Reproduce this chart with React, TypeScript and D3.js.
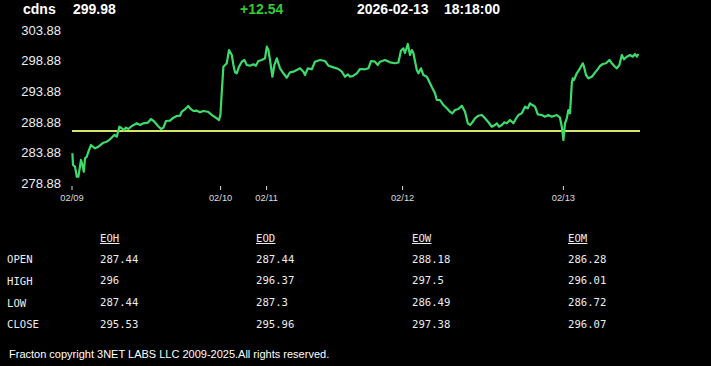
import React from "react";
import * as d3 from "d3";

const symbol = "cdns";
const lastPrice = "299.98";
const change = "+12.54";
const dateStr = "2026-02-13";
const timeStr = "18:18:00";
const prevClose = 287.44;

// time index (bars) and price
const times = [0.2,0.5,1.5,2.4,3.2,4.5,5.2,5.9,6.5,7.4,8.2,9.5,11.5,13.2,15.7,17.4,19,21.2,22.4,23.7,24.9,26.2,26.9,28.2,29.9,32.4,34,35.7,37.9,39.5,41.2,42.9,44.5,45.7,47,49,50.7,52.4,54,54.9,56.5,58.2,59,60.7,62.4,64,65.7,67.9,69.9,72.4,73.5,74.2,74.8,75.7,77.4,78.5,79.9,80.7,81.5,82.4,83.5,84.9,86.2,87.4,89,90.7,91.9,93.2,94.9,96.5,97.4,98.2,99,100.2,101.2,102.4,104,105.7,107.4,109,110.7,112.4,114,115.7,116.5,117.9,119.9,121.5,124,126.5,128.2,130.7,133.2,134.9,136.5,137.9,139,140.7,142.4,144,146.5,148.2,149.5,151.5,152.9,154,156.5,159,161.5,163.2,164.5,165.7,166.5,167.9,169,169.9,170.7,171.2,172.4,173.2,174.5,175.7,177.4,179,180.2,181.5,182.4,184,185.7,187.4,189,190.2,191.5,193.2,194.9,196.5,197.9,199,200.2,201.5,203.2,204.9,206.5,208.2,209.9,211.5,212.4,213.5,214.9,216.2,217.4,219,220.7,221.9,223.2,224.9,226.5,227.9,229,230.2,231.5,232.9,234.9,236.5,238.2,239.9,242.4,244,244.9,245.7,246.5,247.4,248.2,249,249.9,250.4,251,252.4,254,255.4,256,257,258.2,259.9,261.5,263.2,264,265.4,267,268.7,269.9,271.5,272.4,273.7,274.9,276,277.4,279,280.4,281.5,282.4,283.2];
const prices = [283.80,281.89,281.62,279.99,279.99,282.71,281.89,280.80,282.98,283.24,284.06,285.15,284.61,284.87,285.52,285.69,286.08,286.78,286.50,288.13,287.87,287.59,287.97,287.76,288.24,288.68,288.41,288.68,288.78,289.38,288.94,288.29,287.76,287.97,289.06,289.11,289.60,289.87,289.92,290.57,290.96,291.50,291.13,290.69,290.74,290.48,290.69,290.57,290.04,289.50,289.22,290.04,293.29,297.90,298.46,300.62,299.81,298.18,296.99,296.83,297.90,298.72,298.99,298.18,298.07,298.29,298.07,298.83,298.99,299.27,301.16,300.62,298.99,296.27,298.18,299.27,297.64,296.83,296.11,296.99,297.09,297.37,297.64,297.09,296.55,297.64,297.48,298.72,298.99,298.83,298.07,297.80,297.53,297.09,296.27,296.66,296.27,296.44,296.83,297.53,297.48,297.64,298.83,298.72,298.18,298.72,298.99,298.62,298.46,298.59,300.54,300.90,300.13,301.60,299.81,300.62,300.13,299.27,297.37,296.83,297.64,296.55,296.27,295.20,294.38,293.57,292.48,292.48,291.66,291.13,290.57,290.31,290.85,291.01,291.55,290.57,288.68,288.41,288.85,289.50,289.92,290.04,289.50,288.85,288.13,288.41,288.68,288.13,288.41,288.85,288.68,289.22,288.68,289.38,290.04,290.31,291.39,291.13,291.94,291.66,291.39,290.15,290.04,289.76,290.04,289.76,290.04,289.60,288.13,285.96,288.68,289.50,290.85,290.31,295.20,296.01,295.74,296.83,297.64,298.46,297.90,296.55,296.01,296.27,296.93,297.64,298.02,298.34,298.46,298.99,298.46,297.90,297.64,298.18,299.81,299.11,299.53,299.81,299.53,299.97,299.53,299.98];

const yTicks = [303.88, 298.88, 293.88, 288.88, 283.88, 278.88];
const xTickPos = [0, 74.3, 97.3, 165.3, 245.7];
const xTickLabels = ["02/09", "02/10", "02/11", "02/12", "02/13"];

const tableCols = ["EOH", "EOD", "EOW", "EOM"];
const tableRows = ["OPEN", "HIGH", "LOW", "CLOSE"];
const eohVals = ["287.44", "296", "287.44", "295.53"];
const eodVals = ["287.44", "296.37", "287.3", "295.96"];
const eowVals = ["288.18", "297.5", "286.49", "297.38"];
const eomVals = ["286.28", "296.01", "286.72", "296.07"];
const footer = "Fracton copyright 3NET LABS LLC 2009-2025.All rights reserved.";

export default function App() {
  const W = 711, H = 366;
  const x = d3.scaleLinear().domain([0, 284]).range([72, 640]);
  const y = d3.scaleLinear().domain([278.88, 303.88]).range([183.5, 30]);
  const pts: [number, number][] = times.map((t, i) => [t, prices[i]]);
  const line = d3.line<[number, number]>().x(d => x(d[0])).y(d => y(d[1]));
  const colVals = [eohVals, eodVals, eowVals, eomVals];
  const colX = d3.scalePoint<string>().domain(tableCols).range([100, 568]);
  const rowY = d3.scalePoint<string>().domain(tableRows).range([259.5, 324.5]);
  const mono = "'DejaVu Sans Mono', 'Liberation Mono', monospace";
  const sans = "'Liberation Sans', Arial, sans-serif";
  return (
    <div style={{ position: "fixed", left: 0, top: 0, width: W, height: H, background: "#000" }}>
      <svg width={W} height={H} style={{ display: "block", background: "#000" }}>
        <g fontFamily={sans} fontWeight="bold" fontSize={14} fill="#fff">
          <text x={23} y={14}>{symbol}</text>
          <text x={73} y={14}>{lastPrice}</text>
          <text x={240} y={14} fill="#33cc33">{change}</text>
          <text x={357} y={14}>{dateStr}</text>
          <text x={444} y={14}>{timeStr}</text>
        </g>
        <g fontFamily={sans} fontSize={13} fill="#eee" textAnchor="end">
          {yTicks.map(v => (
            <text key={v} x={61} y={y(v)} dy="0.35em">{v.toFixed(2)}</text>
          ))}
        </g>
        <g fontFamily={sans} fontSize={9.3} fill="#ddd" textAnchor="middle">
          {xTickPos.map((p, i) => (
            <g key={i}>
              <line x1={x(p)} x2={x(p)} y1={186} y2={190} stroke="#ddd" strokeWidth={1} />
              <text x={x(p)} y={198} dy="0.35em">{xTickLabels[i]}</text>
            </g>
          ))}
        </g>
        <line x1={x(0)} x2={x(284)} y1={y(prevClose)} y2={y(prevClose)} stroke="#d6e46c" strokeWidth={2} />
        <path d={line(pts) || ""} fill="none" stroke="#3ddc6a" strokeWidth={2.2} strokeLinejoin="round" />
        <g fontFamily={mono} fontSize={10.6} fill="#eee">
          {tableCols.map(c => (
            <g key={c}>
              <text x={colX(c)} y={238} dy="0.35em">{c}</text>
              <line x1={colX(c)} x2={(colX(c) || 0) + 19.5} y1={243.5} y2={243.5} stroke="#eee" strokeWidth={1} />
            </g>
          ))}
          {tableRows.map((r, ri) => (
            <g key={r}>
              <text x={7} y={rowY(r)} dy="0.35em">{r}</text>
              {tableCols.map((c, ci) => (
                <text key={c} x={colX(c)} y={(rowY(r) || 0) - 0.5} dy="0.35em">{colVals[ci][ri]}</text>
              ))}
            </g>
          ))}
        </g>
        <text x={9} y={354} dy="0.35em" fontFamily={sans} fontSize={11} fill="#fff">{footer}</text>
      </svg>
    </div>
  );
}
